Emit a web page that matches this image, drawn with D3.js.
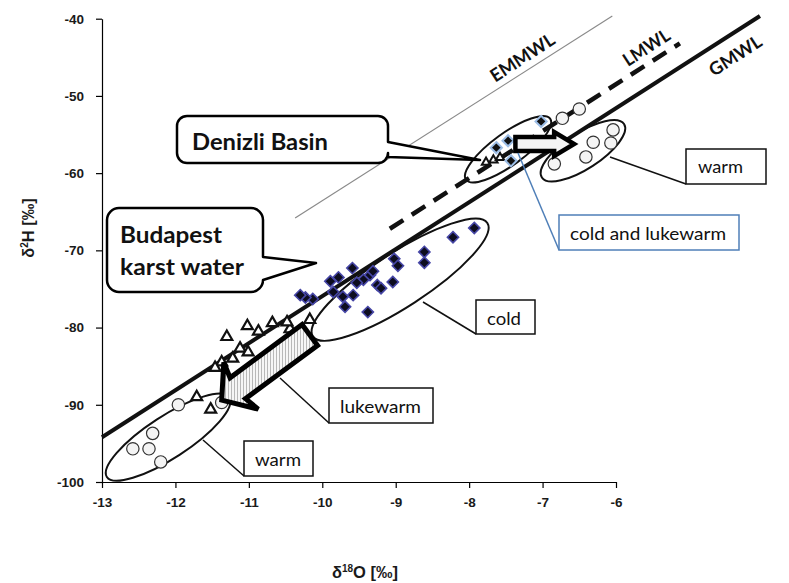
<!DOCTYPE html>
<html>
<head>
<meta charset="utf-8">
<script src="https://cdn.jsdelivr.net/npm/d3@7"></script>
<style>body{margin:0;background:#fff}</style>
</head>
<body>
<svg width="789" height="583"></svg>
<script>
// ---- data (d18O, d2H) ----
var xTicks = [-13,-12,-11,-10,-9,-8,-7,-6];
var yTicks = [-100,-90,-80,-70,-60,-50,-40];

var budapestCold = [[-7.93,-67.1],[-8.22,-68.3],[-8.61,-70.2],[-8.61,-71.6],[-9.02,-71.1],[-8.97,-72.0],
  [-9.04,-74.1],[-9.38,-78.0],[-9.25,-74.5],[-9.20,-74.9],[-9.35,-73.2],[-9.31,-72.7],[-9.44,-73.8],
  [-9.53,-74.2],[-9.59,-72.3],[-9.58,-75.8],[-9.72,-76.0],[-9.69,-77.3],[-9.78,-73.5],[-9.85,-75.4],
  [-9.89,-74.0],[-10.13,-76.3],[-10.23,-76.1],[-10.30,-75.8]];
var budapestLuke = [[-11.30,-81.2],[-11.02,-79.8],[-10.68,-79.4],[-10.44,-80.2],[-10.87,-80.5],[-11.12,-82.7],
  [-11.01,-83.2],[-11.22,-84.0],[-11.37,-84.5],[-11.46,-85.2],[-11.71,-89.0],[-11.52,-90.6],[-10.17,-79.0],[-10.48,-79.3]];
var budapestWarm = [[-11.96,-90.0],[-12.31,-93.7],[-12.58,-95.7],[-12.36,-95.7],[-12.20,-97.4],[-11.37,-89.7]];
var denizliWarm = [[-6.04,-54.4],[-6.07,-56.1],[-6.31,-56.0],[-6.41,-57.9],[-6.84,-58.8],[-6.73,-52.9],[-6.50,-51.7]];
var denizliCold = [[-7.02,-53.3],[-7.47,-55.8],[-7.63,-56.7],[-7.43,-58.4]];
var denizliLuke = [[-7.77,-58.6],[-7.67,-58.3],[-7.58,-58.0]];

var gmwl = [[-13,-94.2],[-4.04,-39.65]];
var lmwl = [[-9.08,-67.2],[-5.13,-43.2]];
var emmwl = [[-10.37,-65.8],[-6.05,-39.65]];

// ---- layout ----
var svg = d3.select('svg');
var x = d3.scaleLinear().domain([-13,-6]).range([102,616]);
var y = d3.scaleLinear().domain([-100,-40]).range([482,18.7]);
var lbl = 'Lato, "Open Sans", sans-serif';

// axes
var gx = svg.append('g').attr('transform','translate(0,482)')
  .call(d3.axisBottom(x).tickValues(xTicks).tickSize(6).tickSizeOuter(0).tickPadding(9).tickFormat(function(d){return String(d);}));
var gy = svg.append('g').attr('transform','translate(102,0)')
  .call(d3.axisLeft(y).tickValues(yTicks).tickSize(6).tickSizeOuter(0).tickPadding(12).tickFormat(function(d){return String(d);}));
[gx,gy].forEach(function(g){
  g.selectAll('path,line').attr('stroke','#000').attr('stroke-width',1.2);
  g.selectAll('text').attr('font-family','"Liberation Sans", Arial, sans-serif').attr('font-size',13.5)
    .attr('font-weight','bold').attr('fill','#1a1a1a');
});

var xt = svg.append('text').attr('x',365).attr('y',578).attr('text-anchor','middle')
  .attr('font-family','"Liberation Sans", Arial, sans-serif').attr('font-weight','bold').attr('font-size',16.5).attr('fill','#1a1a1a');
xt.append('tspan').text('δ');
xt.append('tspan').attr('font-size',10).attr('dy',-6).text('18');
xt.append('tspan').attr('dy',6).text('O [‰]');
var yt = svg.append('text').attr('transform','translate(34,228) rotate(-90)').attr('text-anchor','middle')
  .attr('font-family','"Liberation Sans", Arial, sans-serif').attr('font-weight','bold').attr('font-size',16.5).attr('fill','#1a1a1a');
yt.append('tspan').text('δ');
yt.append('tspan').attr('font-size',10).attr('dy',-6).text('2');
yt.append('tspan').attr('dy',6).text('H [‰]');

// hatch pattern
var defs = svg.append('defs');
var pat = defs.append('pattern').attr('id','hatch').attr('patternUnits','userSpaceOnUse').attr('width',3).attr('height',3);
pat.append('rect').attr('width',3).attr('height',3).attr('fill','#f6f6f6');
pat.append('rect').attr('width',1).attr('height',3).attr('fill','#b8b8b8');

// ellipses (centre in data, radii px)
var ellipses = [
  {c:[-7.47,-56.9], rx:52, ry:16, a:-36},
  {c:[-6.45,-57.1], rx:49, ry:18, a:-33},
  {c:[-8.94,-73.8], rx:104, ry:27, a:-33},
  {c:[-12.10,-94.2], rx:73, ry:21, a:-33}
];
ellipses.forEach(function(e){
  svg.append('ellipse').attr('rx',e.rx).attr('ry',e.ry)
    .attr('transform','translate('+x(e.c[0])+','+y(e.c[1])+') rotate('+e.a+')')
    .attr('fill','none').attr('stroke','#111').attr('stroke-width',2);
});

// water lines
var line = d3.line().x(function(d){return x(d[0]);}).y(function(d){return y(d[1]);});
svg.append('path').datum(emmwl).attr('d',line).attr('stroke','#8a8a8a').attr('stroke-width',1.2).attr('fill','none');
svg.append('path').datum(lmwl).attr('d',line).attr('stroke','#111').attr('stroke-width',4.5).attr('stroke-dasharray','16,10').attr('fill','none');
svg.append('path').datum(gmwl).attr('d',line).attr('stroke','#111').attr('stroke-width',4).attr('fill','none');

function lineLabel(t, cx, cy, len){
  svg.append('text').attr('transform','translate('+cx+','+cy+') rotate(-33)').attr('text-anchor','middle')
    .attr('dominant-baseline','central').attr('font-family',lbl).attr('font-weight','bold').attr('font-size',18)
    .attr('textLength',len).attr('lengthAdjust','spacingAndGlyphs').attr('fill','#111').text(t);
}
lineLabel('EMMWL',522,57,73);
lineLabel('LMWL',646,47,52);
lineLabel('GMWL',735,55,59);

// points
function pts(data, type, size, fill, stroke, sw){
  svg.append('g').selectAll('path').data(data).enter().append('path')
    .attr('d', d3.symbol().type(type).size(size))
    .attr('transform', function(d){return 'translate('+x(d[0])+','+y(d[1])+')';})
    .attr('fill',fill).attr('stroke',stroke).attr('stroke-width',sw);
}
pts(budapestWarm, d3.symbolCircle, 120, '#f4f4f4', '#333', 1.2);
pts(denizliWarm, d3.symbolCircle, 120, '#f4f4f4', '#333', 1.2);
pts(budapestLuke, d3.symbolTriangle2, 85, '#fff', '#111', 2.2);
pts(denizliLuke, d3.symbolTriangle2, 50, '#fff', '#111', 2);
pts(budapestCold, d3.symbolDiamond2, 80, '#0d0d1f', '#4646a6', 1.6);
pts(denizliCold, d3.symbolDiamond2, 80, '#111', '#9cbde6', 2);

// block arrows
function arrow(t, h, bh, hh, hl, bb, fill, sw){
  var x0=x(t[0]), y0=y(t[1]), x1=x(h[0]), y1=y(h[1]);
  var dx=x1-x0, dy=y1-y0, L=Math.hypot(dx,dy), ux=dx/L, uy=dy/L, nx=-uy, ny=ux;
  var loc=[[0,-bh],[L-hl,-bh],[L-hl-bb,-hh],[L,0],[L-hl-bb,hh],[L-hl,bh],[0,bh]];
  var p = loc.map(function(q){return [x0+ux*q[0]+nx*q[1], y0+uy*q[0]+ny*q[1]];});
  svg.append('path').attr('d','M'+p.join('L')+'Z').attr('fill',fill).attr('stroke','#000')
    .attr('stroke-width',sw).attr('stroke-linejoin','miter');
}
arrow([-10.17,-80.97],[-11.37,-89.39],13,29,20,4,'url(#hatch)',5);
arrow([-7.37,-56.23],[-6.57,-56.23],7,12,20,0,'#f4f4f4',4.5);

// label boxes with leader lines
var boxes = [
  {t:'warm', x:686, y:149, w:80, h:35, tx:698, ty:173, len:45, from:[610,157], col:'#111'},
  {t:'cold and lukewarm', x:559, y:215, w:180, h:35, tx:570, ty:240, len:156, from:[518,153], col:'#4f7fb8'},
  {t:'cold', x:476, y:300, w:59, h:34, tx:487, ty:325, len:34, from:[423,302], col:'#111'},
  {t:'lukewarm', x:329, y:388, w:104, h:35, tx:340, ty:413, len:81, from:[280,378], col:'#111'},
  {t:'warm', x:244, y:441, w:69, h:35, tx:255, ty:466, len:46, from:[203,440], col:'#111'}
];
boxes.forEach(function(b){
  svg.append('line').attr('x1',b.from[0]).attr('y1',b.from[1]).attr('x2',b.x).attr('y2',b.y+b.h)
    .attr('stroke',b.col).attr('stroke-width',1.5);
  svg.append('rect').attr('x',b.x).attr('y',b.y).attr('width',b.w).attr('height',b.h)
    .attr('fill','#fff').attr('stroke',b.col).attr('stroke-width',1.5);
  svg.append('text').attr('x',b.tx).attr('y',b.ty).attr('font-family',lbl).attr('font-size',18)
    .attr('textLength',b.len).attr('lengthAdjust','spacingAndGlyphs').attr('fill','#111').text(b.t);
});

// callouts
function callout(b){
  var r=b.r;
  var d='M'+(b.x0+r)+','+b.y0+'H'+(b.x1-r)+'A'+r+','+r+' 0 0 1 '+b.x1+','+(b.y0+r)
    +'V'+b.t0+'L'+b.tip[0]+','+b.tip[1]+'L'+b.x1+','+b.t1
    +'V'+(b.y1-r)+'A'+r+','+r+' 0 0 1 '+(b.x1-r)+','+b.y1
    +'H'+(b.x0+r)+'A'+r+','+r+' 0 0 1 '+b.x0+','+(b.y1-r)
    +'V'+(b.y0+r)+'A'+r+','+r+' 0 0 1 '+(b.x0+r)+','+b.y0+'Z';
  svg.append('path').attr('d',d).attr('fill','#fff').attr('stroke','#000').attr('stroke-width',2.5).attr('stroke-linejoin','round');
  b.lines.forEach(function(l){
    svg.append('text').attr('x',l[1]).attr('y',l[2]).attr('font-family',lbl).attr('font-weight','bold')
      .attr('font-size',23).attr('textLength',l[3]).attr('lengthAdjust','spacingAndGlyphs').attr('fill','#111').text(l[0]);
  });
}
callout({x0:177,y0:116,x1:388,y1:163,r:10,t0:142,t1:157,tip:[480,160],lines:[['Denizli Basin',192,150,136]]});
callout({x0:107,y0:208,x1:263,y1:292,r:12,t0:257,t1:280,tip:[316,263],
  lines:[['Budapest',120,243,102],['karst water',120,275,124]]});
</script>
</body>
</html>
